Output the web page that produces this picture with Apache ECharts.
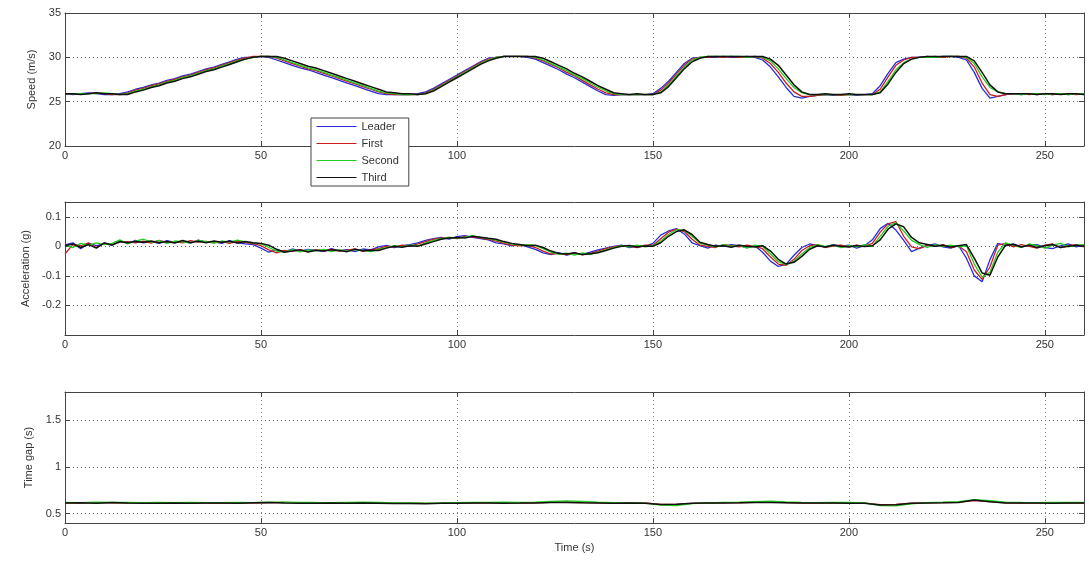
<!DOCTYPE html>
<html><head><meta charset="utf-8">
<script src="https://cdn.jsdelivr.net/npm/echarts@6/dist/echarts.min.js"></script>
<style>html,body{margin:0;padding:0;background:#fff}#c{width:1089px;height:561px}</style>
</head><body><div id="c"></div>
<script>
// ---------- DATA ----------
const seriesNames = ['Leader', 'First', 'Second', 'Third'];
const xTicks = [0, 50, 100, 150, 200, 250];

const time = [0,2,4,6,8,10,12,14,16,18,20,22,24,26,28,30,32,34,36,38,40,42,44,46,48,50,52,54,56,58,
60,62,64,66,68,70,72,74,76,78,80,82,84,86,88,90,92,94,96,98,100,102,104,106,108,110,112,114,116,118,
120,122,124,126,128,130,132,134,136,138,140,142,144,146,148,150,152,154,156,158,160,162,164,166,168,170,172,174,176,178,
180,182,184,186,188,190,192,194,196,198,200,202,204,206,208,210,212,214,216,218,220,222,224,226,228,230,232,234,236,238,
240,242,244,246,248,250,252,254,256,258,260];

const gapTime = [0,4,8,12,16,20,24,28,32,36,40,44,48,52,56,60,64,68,72,76,80,84,88,92,96,100,104,108,112,116,
120,124,128,132,136,140,144,148,152,156,160,164,168,172,176,180,184,188,192,196,200,204,208,212,216,220,224,228,232,236,
240,244,248,252,256,260];

const speedLeader = [25.9,25.8,25.9,26.0,25.9,25.8,25.8,25.9,26.1,26.4,
26.6,26.9,27.1,27.4,27.6,27.9,28.1,28.4,28.7,28.9,
29.2,29.5,29.8,30.0,30.0,30.1,30.0,29.7,29.4,29.1,
28.8,28.6,28.3,28.0,27.7,27.4,27.1,26.8,26.5,26.2,
25.9,25.8,25.8,25.8,25.8,25.9,26.1,26.5,27.0,27.5,
28.0,28.5,29.0,29.5,29.9,30.0,30.1,30.1,30.1,30.0,
29.8,29.4,29.0,28.6,28.1,27.7,27.2,26.7,26.2,25.8,
25.7,25.8,25.8,25.8,25.8,25.9,26.5,27.3,28.3,29.3,
29.9,30.0,30.0,30.0,30.1,30.0,30.0,30.1,30.0,29.7,
28.9,27.8,26.6,25.6,25.4,25.6,25.7,25.8,25.7,25.8,
25.8,25.7,25.8,25.9,26.8,28.2,29.4,29.8,30.0,30.0,
30.1,30.0,30.1,30.1,30.0,29.7,28.3,26.5,25.4,25.6,
25.8,25.9,25.8,25.9,25.8,25.9,25.8,25.9,25.8,25.9,
25.8];
const speedFirst = [25.9,25.9,25.9,25.9,26.0,25.9,25.8,25.8,26.0,26.3,
26.5,26.8,27.0,27.3,27.5,27.8,28.0,28.3,28.6,28.8,
29.1,29.4,29.7,29.9,30.1,30.1,30.1,29.9,29.6,29.3,
29.0,28.7,28.5,28.2,27.9,27.6,27.3,27.0,26.7,26.4,
26.1,25.9,25.8,25.8,25.8,25.8,26.0,26.4,26.9,27.4,
27.9,28.4,28.9,29.4,29.8,30.0,30.1,30.1,30.1,30.1,
29.9,29.6,29.2,28.8,28.3,27.9,27.4,26.9,26.4,26.0,
25.8,25.8,25.8,25.8,25.8,25.8,26.3,27.1,28.1,29.1,
29.8,30.0,30.0,30.1,30.0,30.1,30.0,30.0,30.1,29.9,
29.3,28.3,27.1,26.1,25.6,25.6,25.7,25.8,25.8,25.7,
25.8,25.8,25.8,25.8,26.4,27.8,29.1,29.7,30.0,30.0,
30.0,30.1,30.0,30.1,30.1,29.9,28.9,27.1,25.8,25.6,
25.8,25.9,25.9,25.8,25.9,25.9,25.8,25.9,25.9,25.8,
25.9];
const speedSecond = [25.9,25.9,25.9,25.9,25.9,26.0,25.9,25.8,25.9,26.2,
26.4,26.7,26.9,27.2,27.4,27.7,27.9,28.2,28.5,28.7,
29.0,29.3,29.6,29.8,30.0,30.1,30.1,30.0,29.7,29.4,
29.1,28.8,28.6,28.3,28.0,27.7,27.4,27.1,26.8,26.5,
26.2,26.0,25.9,25.8,25.8,25.8,25.9,26.3,26.8,27.3,
27.8,28.3,28.8,29.3,29.7,30.0,30.1,30.1,30.1,30.1,
30.0,29.7,29.3,28.9,28.5,28.0,27.6,27.1,26.6,26.2,
25.9,25.8,25.8,25.8,25.8,25.8,26.1,26.9,27.9,28.9,
29.7,30.0,30.1,30.1,30.1,30.1,30.1,30.0,30.1,30.0,
29.6,28.7,27.6,26.6,26.0,25.8,25.8,25.8,25.8,25.8,
25.8,25.8,25.8,25.8,26.1,27.3,28.6,29.4,29.8,30.0,
30.0,30.0,30.1,30.1,30.1,30.0,29.3,27.8,26.6,26.1,
25.9,25.9,25.8,25.9,25.9,25.8,25.9,25.9,25.8,25.9,
25.9];
const speedThird = [25.9,25.9,25.8,25.9,26.0,25.9,25.9,25.8,25.8,26.1,
26.3,26.6,26.8,27.1,27.3,27.6,27.8,28.1,28.4,28.6,
28.9,29.2,29.5,29.8,30.0,30.1,30.1,30.1,29.9,29.6,
29.3,29.0,28.8,28.5,28.2,27.9,27.6,27.3,27.0,26.7,
26.4,26.1,26.0,25.9,25.9,25.8,25.9,26.2,26.7,27.2,
27.7,28.2,28.7,29.2,29.6,29.9,30.1,30.1,30.1,30.1,
30.1,29.9,29.5,29.1,28.7,28.2,27.8,27.3,26.8,26.4,
26.0,25.9,25.8,25.9,25.8,25.8,26.0,26.7,27.7,28.7,
29.5,29.9,30.1,30.1,30.1,30.1,30.1,30.1,30.1,30.1,
29.8,29.1,28.0,26.9,26.1,25.8,25.8,25.9,25.8,25.8,
25.9,25.8,25.8,25.8,26.0,27.0,28.3,29.3,29.8,30.0,
30.1,30.1,30.1,30.1,30.1,30.1,29.6,28.3,26.9,26.1,
25.9,25.9,25.9,25.9,25.8,25.9,25.9,25.8,25.9,25.9,
25.8];

const accLeader = [0.005,0.012,-0.008,0.010,0.002,0.008,0.004,0.018,0.010,0.020,
0.012,0.016,0.010,0.019,0.013,0.017,0.011,0.021,0.014,0.015,
0.010,0.019,0.012,0.008,0.006,-0.006,-0.020,-0.012,-0.018,-0.009,
-0.016,-0.010,-0.014,-0.017,-0.008,-0.015,-0.011,-0.018,-0.009,-0.012,
-0.002,0.003,-0.004,0.002,0.006,0.012,0.020,0.026,0.030,0.024,
0.033,0.036,0.030,0.026,0.022,0.012,0.008,0.002,0.006,-0.002,
-0.010,-0.022,-0.028,-0.021,-0.030,-0.024,-0.027,-0.020,-0.012,-0.006,
0.000,0.004,-0.004,0.002,0.000,0.010,0.038,0.052,0.060,0.042,
0.012,0.002,-0.006,0.004,0.000,0.006,0.002,-0.004,0.002,-0.020,
-0.050,-0.068,-0.060,-0.030,-0.004,0.008,0.002,-0.002,0.006,0.000,
0.004,-0.006,0.002,0.022,0.060,0.078,0.055,0.020,-0.018,-0.006,
0.002,0.008,-0.002,-0.006,0.002,-0.040,-0.100,-0.120,-0.045,0.010,
0.002,0.008,-0.002,0.004,0.006,-0.004,-0.008,0.002,0.008,-0.002,
0.004];
const accFirst = [-0.025,0.006,0.002,0.012,-0.004,0.010,0.006,0.014,0.016,0.012,
0.018,0.011,0.020,0.013,0.016,0.012,0.019,0.014,0.017,0.012,
0.016,0.010,0.018,0.013,0.009,0.002,-0.012,-0.022,-0.014,-0.017,
-0.011,-0.018,-0.012,-0.015,-0.010,-0.016,-0.013,-0.009,-0.017,-0.012,
-0.008,0.001,-0.002,0.004,0.000,0.008,0.016,0.024,0.028,0.030,
0.026,0.034,0.032,0.028,0.024,0.018,0.010,0.004,0.002,0.004,
-0.004,-0.016,-0.026,-0.024,-0.028,-0.022,-0.029,-0.024,-0.016,-0.008,
-0.002,0.002,0.000,-0.004,0.004,0.004,0.026,0.048,0.058,0.050,
0.024,0.004,0.000,-0.004,0.006,0.002,-0.002,0.004,0.000,-0.008,
-0.036,-0.060,-0.064,-0.044,-0.014,0.002,0.006,-0.004,0.002,0.004,
-0.002,0.004,0.000,0.010,0.048,0.076,0.084,0.034,-0.002,-0.008,
0.004,0.000,0.006,-0.004,0.002,-0.018,-0.080,-0.112,-0.070,0.004,
0.010,-0.002,0.006,0.000,-0.006,0.004,0.008,-0.004,0.002,0.006,
-0.002];
const accSecond = [0.004,-0.004,0.010,0.004,0.012,0.006,0.010,0.022,0.008,0.018,
0.024,0.014,0.019,0.010,0.018,0.015,0.012,0.020,0.016,0.011,
0.018,0.014,0.021,0.015,0.012,0.008,-0.004,-0.016,-0.020,-0.011,
-0.019,-0.012,-0.015,-0.010,-0.018,-0.012,-0.016,-0.011,-0.014,-0.018,
-0.010,-0.004,0.002,-0.002,0.004,0.002,0.012,0.020,0.026,0.030,
0.028,0.031,0.036,0.030,0.026,0.021,0.014,0.008,0.004,0.006,
0.002,-0.008,-0.020,-0.026,-0.023,-0.030,-0.022,-0.028,-0.020,-0.012,
-0.004,0.002,-0.002,0.004,-0.002,0.002,0.018,0.040,0.056,0.054,
0.034,0.010,0.004,-0.002,0.006,0.000,0.004,-0.006,0.004,0.000,
-0.026,-0.052,-0.062,-0.050,-0.026,-0.004,0.006,0.000,0.004,-0.004,
0.002,-0.002,0.006,0.000,0.034,0.068,0.080,0.052,0.020,0.006,
-0.004,0.006,0.000,0.004,-0.002,0.002,-0.060,-0.104,-0.088,-0.020,
0.012,0.004,-0.004,0.008,0.002,-0.006,0.004,0.010,-0.002,0.004,
0.006];
const accThird = [0.002,0.008,-0.004,0.006,-0.006,0.012,0.004,0.016,0.012,0.016,
0.014,0.018,0.012,0.016,0.011,0.020,0.013,0.017,0.012,0.018,
0.014,0.017,0.011,0.016,0.012,0.010,0.004,-0.010,-0.020,-0.016,
-0.012,-0.019,-0.013,-0.016,-0.012,-0.014,-0.018,-0.010,-0.015,-0.013,
-0.014,-0.006,0.000,-0.003,0.002,0.000,0.008,0.016,0.024,0.028,
0.030,0.028,0.034,0.031,0.027,0.024,0.016,0.010,0.006,0.002,
0.004,-0.004,-0.016,-0.024,-0.026,-0.022,-0.028,-0.025,-0.022,-0.014,
-0.006,0.000,0.003,-0.002,0.001,0.000,0.012,0.034,0.050,0.056,
0.040,0.014,0.006,0.000,0.002,-0.003,0.004,0.000,-0.002,0.002,
-0.016,-0.044,-0.060,-0.054,-0.034,-0.010,0.002,-0.002,0.004,0.000,
-0.002,0.003,-0.001,0.002,0.022,0.058,0.076,0.066,0.030,0.012,
0.006,0.000,0.004,-0.002,0.002,0.006,-0.040,-0.090,-0.098,-0.036,
0.004,0.006,-0.002,0.004,-0.004,0.002,0.006,-0.004,0.000,0.004,
0.000];

const gapFirst = [0.615,0.612,0.618,0.616,0.613,0.617,0.614,0.612,0.615,0.613,
0.611,0.614,0.612,0.618,0.620,0.616,0.613,0.611,0.614,0.616,
0.613,0.610,0.612,0.609,0.611,0.614,0.612,0.615,0.617,0.614,
0.616,0.620,0.622,0.618,0.615,0.613,0.611,0.614,0.600,0.598,
0.610,0.614,0.616,0.615,0.620,0.624,0.618,0.614,0.612,0.615,
0.613,0.612,0.596,0.598,0.612,0.616,0.618,0.622,0.640,0.630,
0.616,0.614,0.613,0.615,0.612,0.614];
const gapSecond = [0.620,0.618,0.622,0.619,0.621,0.618,0.620,0.617,0.619,0.618,
0.617,0.620,0.618,0.622,0.624,0.621,0.619,0.618,0.620,0.622,
0.619,0.615,0.614,0.612,0.614,0.617,0.619,0.621,0.623,0.621,
0.624,0.630,0.636,0.630,0.622,0.618,0.616,0.612,0.590,0.586,
0.606,0.616,0.620,0.622,0.628,0.634,0.626,0.620,0.618,0.621,
0.619,0.616,0.586,0.582,0.604,0.618,0.622,0.628,0.650,0.640,
0.624,0.620,0.618,0.621,0.619,0.620];
const gapThird = [0.614,0.616,0.612,0.618,0.614,0.612,0.610,0.613,0.611,0.614,
0.615,0.612,0.616,0.618,0.614,0.612,0.611,0.614,0.612,0.613,
0.612,0.608,0.609,0.607,0.610,0.611,0.613,0.614,0.612,0.613,
0.615,0.618,0.620,0.616,0.614,0.612,0.613,0.610,0.598,0.600,
0.612,0.614,0.615,0.616,0.618,0.620,0.617,0.614,0.613,0.615,
0.612,0.610,0.592,0.594,0.610,0.614,0.616,0.620,0.645,0.628,
0.614,0.613,0.615,0.612,0.614,0.613];

// ---------- CHART ----------
const colors = {Leader: '#2a2ad6', First: '#c81e1e', Second: '#1ecf1e', Third: '#111111'};
const FONT = "'Liberation Sans', Arial, sans-serif";
const TXT = '#333';
const AXC = '#444';

const grids = [
  {left: 65, right: 5, top: 13, height: 133},
  {left: 65, right: 5, top: 202, height: 133},
  {left: 65, right: 5, top: 392, height: 131}
];

function xAx(g, main, withName) {
  return {
    type: 'value', gridIndex: g, min: 0, max: 260, interval: 50,
    position: main ? 'bottom' : 'top',
    name: withName ? 'Time (s)' : '', nameLocation: 'middle', nameGap: 19,
    nameTextStyle: {fontFamily: FONT, fontSize: 11, color: TXT},
    axisLine: {show: true, onZero: false, lineStyle: {color: AXC, width: 1}},
    axisTick: {show: true, inside: true, length: 5, lineStyle: {color: AXC}},
    axisLabel: {show: main, margin: 4, fontFamily: FONT, fontSize: 11, color: TXT, showMaxLabel: false},
    splitLine: {show: main, lineStyle: {type: [1, 3], color: '#888', width: 1}}
  };
}
function yAx(g, main, cfg) {
  return Object.assign({
    type: 'value', gridIndex: g,
    position: main ? 'left' : 'right',
    nameLocation: 'middle', nameRotate: 90,
    nameTextStyle: {fontFamily: FONT, fontSize: 11, color: TXT},
    axisLine: {show: true, onZero: false, lineStyle: {color: AXC, width: 1}},
    axisTick: {show: true, inside: true, length: 5, lineStyle: {color: AXC}},
    axisLabel: {show: main, margin: 4, fontFamily: FONT, fontSize: 11, color: TXT},
    splitLine: {show: main, lineStyle: {type: [1, 3], color: '#666', width: 1}}
  }, cfg, main ? {} : {name: ''});
}

const xAxes = [], yAxes = [];
for (let g = 0; g < 3; g++) {
  xAxes.push(xAx(g, true, g === 2));
  xAxes.push(xAx(g, false, false));
}
const yCfg = [
  {min: 20, max: 35, interval: 5, name: 'Speed (m/s)', nameGap: 24},
  {min: -0.3, max: 0.15, interval: 0.1, name: 'Acceleration (g)', nameGap: 31},
  {min: 0.4, max: 1.8, splitNumber: 3, name: 'Time gap (s)', nameGap: 28}
];
for (let g = 0; g < 3; g++) {
  const c = yCfg[g];
  const mainCfg = Object.assign({}, c);
  yAxes.push(yAx(g, true, mainCfg));
  yAxes.push(yAx(g, false, {min: c.min, max: c.max, interval: c.interval, splitNumber: c.splitNumber}));
}
// hide edge labels where the reference has none
yAxes[2].axisLabel.showMinLabel = false;
yAxes[2].axisLabel.showMaxLabel = false;
yAxes[4].axisLabel.showMinLabel = false;
yAxes[4].axisLabel.showMaxLabel = false;

function pairs(t, v) { return t.map((x, i) => [x, v[i]]); }
function line(name, g, t, v, w) {
  return {
    type: 'line', name: name, xAxisIndex: g * 2, yAxisIndex: g * 2,
    data: pairs(t, v), symbol: 'none', showSymbol: false,
    lineStyle: {width: w, color: colors[name]}, itemStyle: {color: colors[name]},
    animation: false, silent: true
  };
}

const series = [
  line('Leader', 0, time, speedLeader, 1.3),
  line('First', 0, time, speedFirst, 1.3),
  line('Second', 0, time, speedSecond, 1.3),
  line('Third', 0, time, speedThird, 1.5),
  line('Leader', 1, time, accLeader, 1.3),
  line('First', 1, time, accFirst, 1.3),
  line('Second', 1, time, accSecond, 1.3),
  line('Third', 1, time, accThird, 1.5),
  line('First', 2, gapTime, gapFirst, 1.3),
  line('Second', 2, gapTime, gapSecond, 1.3),
  line('Third', 2, gapTime, gapThird, 1.5)
];

const chart = echarts.init(document.getElementById('c'), null, {renderer: 'canvas'});
chart.setOption({
  backgroundColor: '#fff',
  animation: false,
  textStyle: {fontFamily: FONT},
  grid: grids,
  xAxis: xAxes,
  yAxis: yAxes,
  legend: {
    data: seriesNames, orient: 'vertical', left: 311, top: 118,
    itemWidth: 40, itemHeight: 13, itemGap: 6,
    padding: [3, 10, 3, 5],
    itemStyle: {opacity: 0},
    lineStyle: {width: 1},
    backgroundColor: '#fff', borderColor: '#444', borderWidth: 1, borderRadius: 0,
    textStyle: {fontFamily: FONT, fontSize: 11, color: TXT},
    selectedMode: false, z: 10
  },
  series: series
});
</script>
</body></html>
